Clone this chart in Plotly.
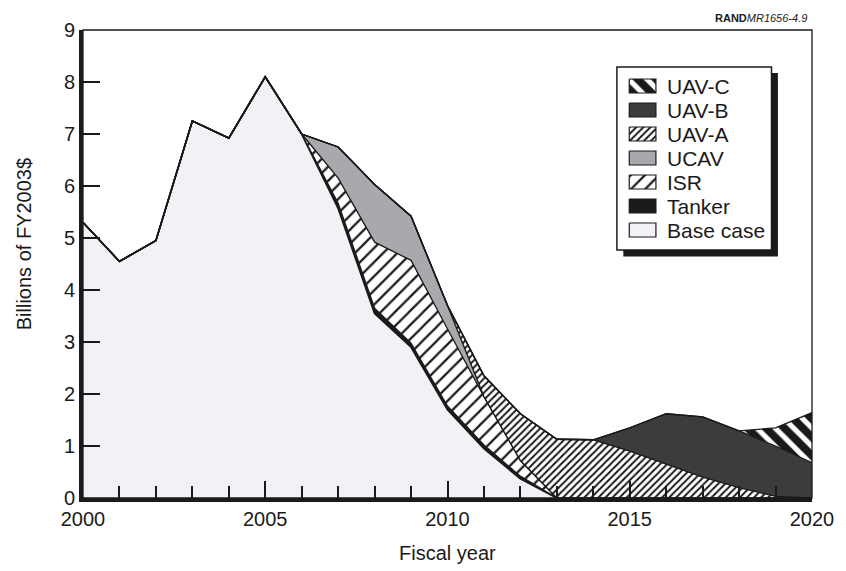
import plotly.graph_objects as go

# fiscal years on the x axis
years = list(range(2000, 2021))

# billions of FY2003$, one value per year (stacked bottom to top)
base_case = [5.3, 4.55, 4.95, 7.25, 6.92, 8.1, 7.0, 5.57, 3.55, 2.9, 1.7,
             0.95, 0.37, 0, 0, 0, 0, 0, 0, 0, 0]
tanker = [0, 0, 0, 0, 0, 0, 0, 0.1, 0.1, 0.08, 0.07,
          0.07, 0.05, 0, 0, 0, 0, 0, 0, 0, 0]
isr = [0, 0, 0, 0, 0, 0, 0, 0.48, 1.27, 1.59, 1.48,
       0.93, 0.30, 0, 0, 0, 0, 0, 0, 0, 0]
ucav = [0, 0, 0, 0, 0, 0, 0, 0.6, 1.11, 0.85, 0.45,
        0, 0, 0, 0, 0, 0, 0, 0, 0, 0]
uav_a = [0, 0, 0, 0, 0, 0, 0, 0, 0, 0, 0,
         0.4, 0.9, 1.13, 1.12, 0.9, 0.65, 0.4, 0.2, 0.03, 0]
uav_b = [0, 0, 0, 0, 0, 0, 0, 0, 0, 0, 0,
         0, 0, 0, 0, 0.45, 0.97, 1.16, 1.09, 0.97, 0.68]
uav_c = [0, 0, 0, 0, 0, 0, 0, 0, 0, 0, 0,
         0, 0, 0, 0, 0, 0, 0, 0, 0.35, 0.96]

x_ticks = [2000, 2005, 2010, 2015, 2020]
y_ticks = list(range(0, 10))

INK = "#1a1a1a"
FONT = "Liberation Sans, Arial, Helvetica, sans-serif"

styles = {
    "Base case": dict(fillcolor="#f1f2f6"),
    "Tanker": dict(fillcolor=INK),
    "ISR": dict(fillcolor="white",
                fillpattern=dict(shape="/", fgcolor=INK, bgcolor="white",
                                 fgopacity=1, size=10, solidity=0.22)),
    "UCAV": dict(fillcolor="#a8a9ad"),
    "UAV-A": dict(fillcolor="white",
                  fillpattern=dict(shape="/", fgcolor=INK, bgcolor="white",
                                   fgopacity=1, size=5, solidity=0.4)),
    "UAV-B": dict(fillcolor="#3c3c3c"),
    "UAV-C": dict(fillcolor=INK,
                  fillpattern=dict(shape="\\", fgcolor="white", bgcolor=INK,
                                   fgopacity=1, size=13, solidity=0.4)),
}

series = [("Base case", base_case), ("Tanker", tanker), ("ISR", isr),
          ("UCAV", ucav), ("UAV-A", uav_a), ("UAV-B", uav_b),
          ("UAV-C", uav_c)]

fig = go.Figure()
for name, vals in series:
    fig.add_trace(go.Scatter(
        x=years, y=vals, name=name, stackgroup="one", mode="lines",
        line=dict(color=INK, width=1.8 if name == "Base case" else 1.3),
        showlegend=False, hoverinfo="skip", **styles[name]))

# hand-made legend on a pixel-scaled overlay axis
legend_names = ["UAV-C", "UAV-B", "UAV-A", "UCAV", "ISR", "Tanker", "Base case"]
row0, row_gap = 86, 24.0
sw_x0, sw_x1, sw_h = 636, 663, 7
for i, name in enumerate(legend_names):
    cy = row0 + i * row_gap
    fig.add_trace(go.Scatter(
        x=[sw_x0, sw_x1, sw_x1, sw_x0, sw_x0],
        y=[cy - sw_h, cy - sw_h, cy + sw_h, cy + sw_h, cy - sw_h],
        xaxis="x2", yaxis="y2", mode="lines", fill="toself",
        line=dict(color=INK, width=1.2), showlegend=False,
        hoverinfo="skip", **styles[name]))
    fig.add_annotation(x=672, y=cy, xref="x2", yref="y2", text=name,
                       showarrow=False, xanchor="left", yanchor="middle",
                       font=dict(size=21, color=INK, family=FONT))

fig.add_shape(type="rect", xref="x2", yref="y2", x0=630, x1=786.5,
              y0=73, y1=256.5, fillcolor=INK, line=dict(width=0),
              layer="below")
fig.add_shape(type="rect", xref="x2", yref="y2", x0=623.5, x1=780,
              y0=67, y1=250, fillcolor="white",
              line=dict(color=INK, width=1.5), layer="below")

# thin top / right frame
fig.add_shape(type="rect", xref="paper", yref="paper", x0=0, x1=1, y0=0,
              y1=1, line=dict(color=INK, width=1.3), layer="above")

fig.add_annotation(x=-0.0806, y=0.5427, xref="paper", yref="paper",
                   text="Billions of FY2003$", textangle=-90,
                   showarrow=False, xanchor="center", yanchor="middle",
                   font=dict(size=20, color=INK, family=FONT))
fig.add_annotation(x=0.5, y=-0.1175, xref="paper", yref="paper",
                   text="Fiscal year", showarrow=False,
                   xanchor="center", yanchor="middle",
                   font=dict(size=20, color=INK, family=FONT))
fig.add_annotation(x=0.996, y=1.0427, xref="paper", yref="paper",
                   text="<b>RAND</b><i>MR1656-4.9</i>", showarrow=False,
                   xanchor="right", yanchor="top",
                   font=dict(size=11, color=INK, family=FONT))

fig.update_layout(
    width=846, height=571,
    margin=dict(l=83, r=25, t=30, b=73),
    paper_bgcolor="white", plot_bgcolor="white",
    font=dict(family=FONT, color=INK),
    xaxis=dict(range=[2000, 2020], tickvals=x_ticks, ticks="inside",
               ticklen=17, tickwidth=1.5, tickcolor=INK,
               minor=dict(dtick=1, ticks="inside", ticklen=12,
                          tickwidth=1.5, tickcolor=INK),
               showline=True, linewidth=4, linecolor=INK,
               showgrid=False, zeroline=False,
               tickfont=dict(size=20, color=INK)),
    yaxis=dict(range=[0, 9], tickvals=y_ticks, ticks="inside",
               ticklen=17, tickwidth=1.5, tickcolor=INK,
               showline=True, linewidth=4, linecolor=INK,
               showgrid=False, zeroline=False,
               tickfont=dict(size=20, color=INK)),
    xaxis2=dict(overlaying="x", anchor="y2", range=[83, 821],
                visible=False, fixedrange=True),
    yaxis2=dict(overlaying="y", anchor="x2", range=[498, 30],
                visible=False, fixedrange=True),
)

# the page's default 8px body margin would shift the whole chart
fig.write_html("out.html", config={"displayModeBar": False},
               post_script="document.body.style.margin='0';")
